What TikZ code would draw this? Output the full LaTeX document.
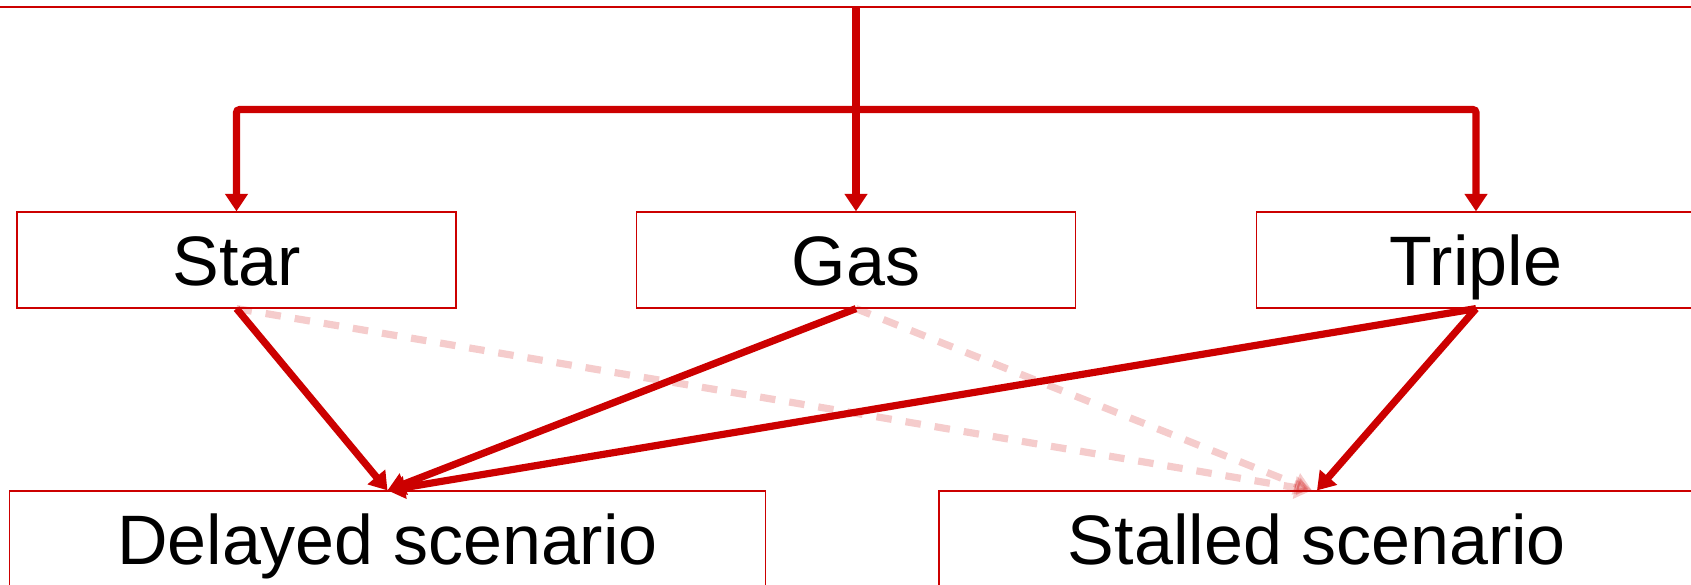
\documentclass[tikz,border=0pt]{standalone}
\usepackage{fontspec}
\setmainfont{Liberation Sans}
\usetikzlibrary{arrows.meta}
\definecolor{linkred}{HTML}{CC0000}
\begin{document}
\begin{tikzpicture}[x=1pt,y=-1pt,
  box/.style={draw=linkred, line width=1.2pt, minimum height=96pt,
    inner sep=0pt, text height=50pt, text depth=0pt, font=\fontsize{70}{84}\selectfont},
  topbox/.style={box, minimum width=439pt},
  lowbox/.style={box, minimum width=756pt},
  conn/.style={draw=linkred, line width=7.2pt,
    -{Triangle[length=17.5pt,width=22pt]}},
  faint/.style={draw=linkred, opacity=0.2, line width=7.2pt,
    dash pattern=on 15.5pt off 14pt,
    -{Triangle[length=17.5pt,width=22pt]}}]
\useasboundingbox (0,0) rectangle (1691,585);

% parent box, mostly above the page
\node[draw=linkred, line width=1.2pt, minimum width=1760pt, minimum height=100pt,
  inner sep=0pt] (root) at (845.5,-43) {};

% middle row
\node[topbox] (star)   at (236.5,260) {Star};
\node[topbox] (gas)    at (856,260)   {Gas};
\node[topbox] (triple) at (1476,260)  {Triple};

% bottom row
\node[lowbox] (delayed) at (387.5,539) {Delayed scenario};
\node[lowbox] (stalled) at (1317,539)  {Stalled scenario};

% bus from the parent
\coordinate (busjoin) at ([yshift=-102pt]root.south -| gas.north);
\draw[conn] (root.south -| gas.north) -- (gas.north);
\draw[conn, rounded corners=3pt] (busjoin) -| (star.north);
\draw[conn, rounded corners=3pt] (busjoin) -| (triple.north);

% faint links to the stalled scenario
\draw[faint] (star.south) -- ([xshift=-5pt]stalled.north);
\draw[faint] (gas.south) -- ([xshift=-5pt]stalled.north);

% solid links
\draw[conn] (star.south) -- (delayed.north);
\draw[conn] (gas.south) -- (delayed.north);
\draw[conn] (triple.south) -- (delayed.north);
\draw[conn] (triple.south) -- (stalled.north);
\end{tikzpicture}
\end{document}
